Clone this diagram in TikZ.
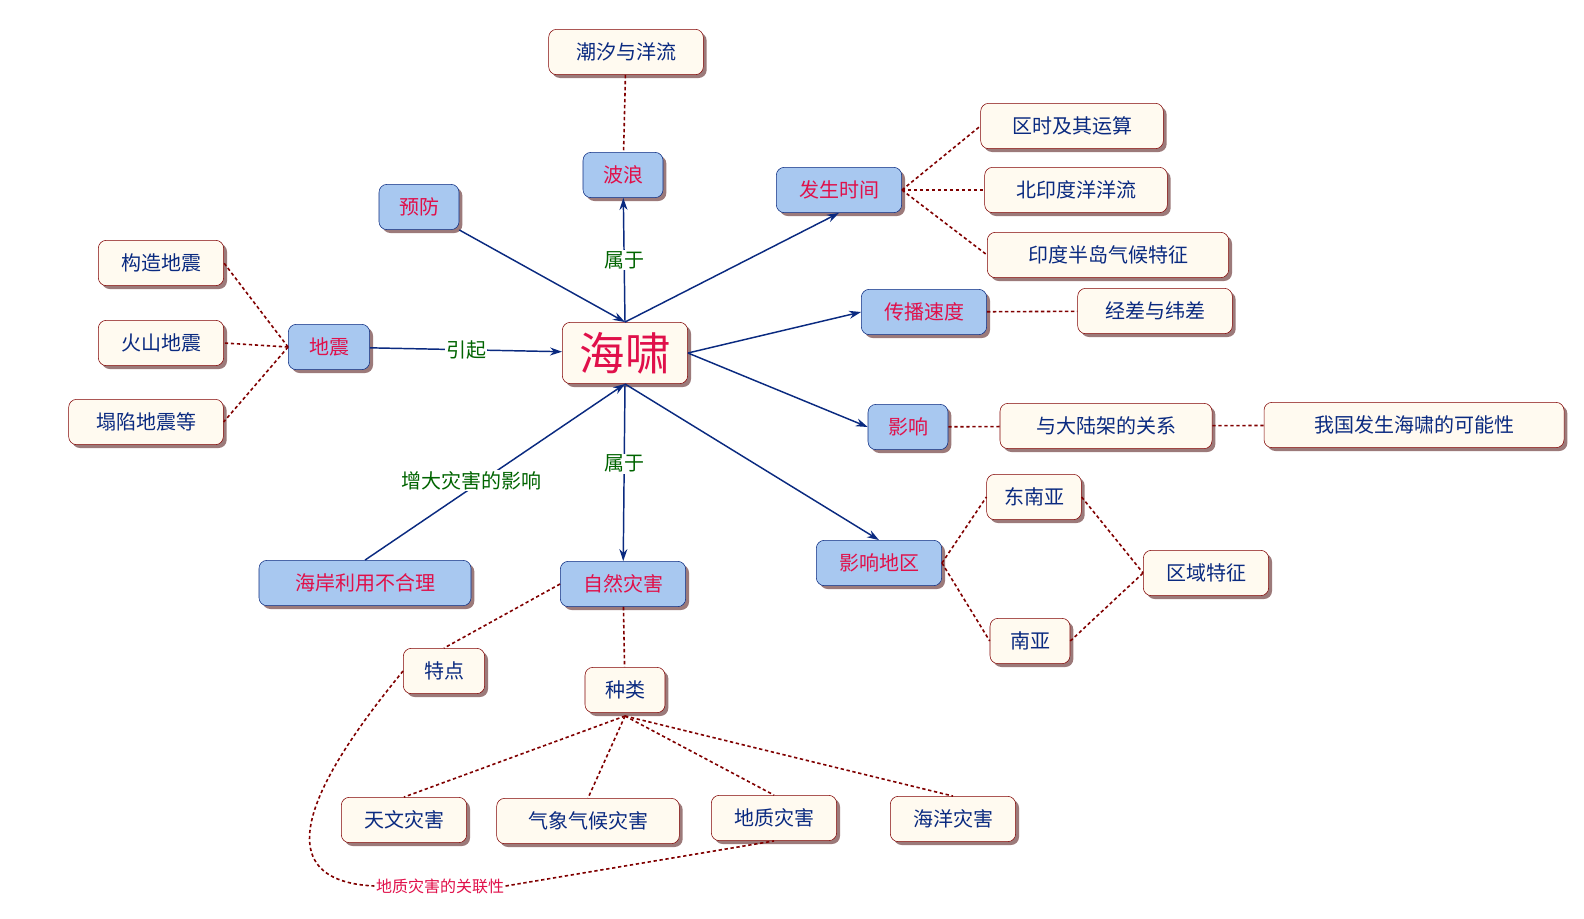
\documentclass[tikz,border=0pt]{standalone}
\usepackage{fontspec}
\setmainfont{Noto Sans CJK SC}
\usetikzlibrary{shadows,arrows.meta}
\definecolor{bord}{HTML}{800000}
\definecolor{navy}{HTML}{0A2A80}
\definecolor{cream}{HTML}{FFFAF0}
\definecolor{bfill}{HTML}{A8C8F0}
\definecolor{crim}{HTML}{E0104A}
\definecolor{lg}{HTML}{006400}
\tikzset{
 base/.style={rounded corners=6pt,minimum height=34pt,inner xsep=6pt,font=\fontsize{15}{15}\selectfont,drop shadow={shadow xshift=2.5pt,shadow yshift=-2.5pt,fill=black!45!red!30!gray,opacity=0.8}},
 w/.style={base,draw=bord,fill=cream,text=navy},
 b/.style={base,draw=navy,fill=bfill,text=crim},
 dl/.style={draw=bord,densely dashed,line width=1.2pt,dash pattern=on 2.5pt off 2pt},
 ar/.style={draw=navy,line width=1.1pt,-{Stealth[length=9pt,width=6pt]}},
 lab/.style={fill=white,text=lg,font=\fontsize{15}{15}\selectfont,inner sep=1pt}
}
\begin{document}
\begin{tikzpicture}[x=0.75pt,y=-0.75pt]
\useasboundingbox (0,0) rectangle (1584,918);
\node[w,minimum width=116pt] (cx) at (626,52) {潮汐与洋流};
\node[b,minimum width=60pt] (bl) at (623,175) {波浪};
\node[b,minimum width=60pt] (yf) at (419,207) {预防};
\node[b,minimum width=94pt] (fs) at (839,190) {发生时间};
\node[w,minimum width=137pt] (qs) at (1072,126) {区时及其运算};
\node[w,minimum width=137pt] (by) at (1076,190) {北印度洋洋流};
\node[w,minimum width=181pt] (yd) at (1108,255) {印度半岛气候特征};
\node[b,minimum width=94pt] (cb) at (924,312) {传播速度};
\node[w,minimum width=116pt] (jc) at (1155,311) {经差与纬差};
\node[b,minimum width=60pt] (yx) at (908,427) {影响};
\node[w,minimum width=159pt] (dl) at (1106,426) {与大陆架的关系};
\node[w,minimum width=225pt] (wg) at (1414,425) {我国发生海啸的可能性};
\node[w,minimum width=71pt] (dn) at (1034,497) {东南亚};
\node[w,minimum width=94pt] (qy) at (1206,573) {区域特征};
\node[w,minimum width=60pt] (ny) at (1030,641) {南亚};
\node[b,minimum width=94pt] (yq) at (879,563) {影响地区};
\node[w,minimum width=94pt] (gz) at (161,263) {构造地震};
\node[w,minimum width=94pt] (hs) at (161,343) {火山地震};
\node[w,minimum width=116pt] (tx) at (146,422) {塌陷地震等};
\node[b,minimum width=61pt] (dz) at (329,347) {地震};
\node[w,minimum width=94pt,minimum height=46pt,text=crim,font=\fontsize{34}{34}\selectfont] (hx) at (625,353) {海啸};
\node[b,minimum width=159pt] (ha) at (365,583) {海岸利用不合理};
\node[b,minimum width=94pt] (zr) at (623,584) {自然灾害};
\node[w,minimum width=61pt] (td) at (444,671) {特点};
\node[w,minimum width=60pt] (zl) at (625,690) {种类};
\node[w,minimum width=94pt] (tw) at (404,820) {天文灾害};
\node[w,minimum width=137pt] (qx) at (588,821) {气象气候灾害};
\node[w,minimum width=94pt] (dz2) at (774,818) {地质灾害};
\node[w,minimum width=94pt] (hy) at (953,819) {海洋灾害};
\node[text=crim,font=\fontsize{12}{12}\selectfont,inner sep=1pt] (gl) at (440,886) {地质灾害的关联性};
% dotted
\draw[dl] (cx) -- (bl);
\draw[dl] (fs.east) -- (qs.west);
\draw[dl] (fs.east) -- (by.west);
\draw[dl] (fs.east) -- (yd.west);
\draw[dl] (cb) -- (jc);
\draw[dl] (yx) -- (dl);
\draw[dl] (dl) -- (wg);
\draw[dl] (yq.east) -- (dn.west);
\draw[dl] (yq.east) -- (ny.west);
\draw[dl] (dn.east) -- (qy.west);
\draw[dl] (ny.east) -- (qy.west);
\draw[dl] (dz.west) -- (gz.east);
\draw[dl] (dz.west) -- (hs.east);
\draw[dl] (dz.west) -- (tx.east);
\draw[dl] (zr.west) -- (td.north);
\draw[dl] (zr) -- (zl);
\coordinate (zb) at (625,716);
\draw[dl] (zb) -- (tw.north);
\draw[dl] (zb) -- (qx.north);
\draw[dl] (zb) -- (dz2.north);
\draw[dl] (zb) -- (hy.north);
\draw[dl] (td.west) .. controls (330,760) and (250,880) .. (gl.west);
\draw[dl] (gl.east) -- (dz2.south);
% arrows
\draw[ar] (dz) -- node[lab]{引起} (hx);
\draw[ar] (yf.south east) -- (hx.north);
\draw[ar] (hx.north) -- node[lab]{属于} (bl);
\draw[ar] (hx.north) -- (fs.south);
\draw[ar] (hx.east) -- (cb.west);
\draw[ar] (hx.east) -- (yx.west);
\draw[ar] (hx.south) -- (yq.north);
\draw[ar] (hx.south) -- node[lab,pos=0.45]{属于} (zr);
\draw[ar] (ha.north) -- node[lab,pos=0.45,xshift=-8pt]{增大灾害的影响} (hx.south);
\end{tikzpicture}
\end{document}
